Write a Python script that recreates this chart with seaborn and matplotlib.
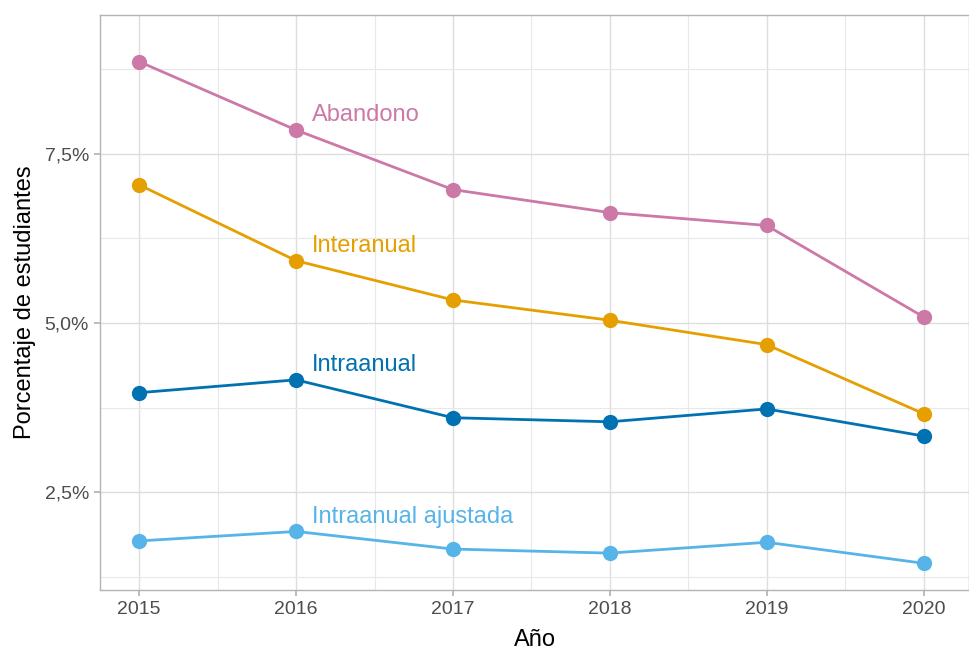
import numpy as np
import pandas as pd
import matplotlib
matplotlib.use("Agg")
import matplotlib.pyplot as plt
import seaborn as sns
from matplotlib.ticker import FuncFormatter, MultipleLocator

# values (percent)
anios = [2015, 2016, 2017, 2018, 2019, 2020]
abandono = [8.86, 7.85, 6.97, 6.63, 6.44, 5.09]
interanual = [7.04, 5.92, 5.34, 5.04, 4.68, 3.66]
intraanual = [3.97, 4.16, 3.60, 3.54, 3.73, 3.33]
intraanual_ajustada = [1.78, 1.92, 1.66, 1.60, 1.76, 1.45]

series = ["Abandono", "Interanual", "Intraanual", "Intraanual ajustada"]
colores = ["#CC79A7", "#E69F00", "#0072B2", "#56B4E9"]

df = pd.DataFrame({
    "anio": anios * 4,
    "valor": abandono + interanual + intraanual + intraanual_ajustada,
    "serie": np.repeat(series, len(anios)),
})

sns.set_theme(style="white")
plt.rcParams['font.family'] = ['Liberation Sans', 'DejaVu Sans']

fig = plt.figure(figsize=(9.69, 6.5), dpi=100)
ax = fig.add_axes([0.1032, 0.0923, 0.8968, 0.8847])

sns.lineplot(data=df, x="anio", y="valor", hue="serie", hue_order=series,
             palette=colores, marker="o", markersize=11, markeredgewidth=0,
             linewidth=2, legend=False, ax=ax, zorder=3)

# etiquetas junto al punto de 2016
for s, c in zip(series, colores):
    v = df[(df.serie == s) & (df.anio == 2016)].valor.iloc[0]
    ax.text(2016.1, v + 0.22, s, color=c, fontsize=17, ha="left", va="center")

ax.set_xlim(2014.75, 2020.29)
ax.set_ylim(1.055, 9.55)
ax.xaxis.set_major_locator(MultipleLocator(1))
ax.xaxis.set_minor_locator(MultipleLocator(0.5))
ax.yaxis.set_major_locator(MultipleLocator(2.5))
ax.yaxis.set_minor_locator(MultipleLocator(1.25))
ax.yaxis.set_major_formatter(FuncFormatter(lambda v, p: f"{v:.1f}%".replace(".", ",")))
ax.xaxis.set_major_formatter(FuncFormatter(lambda v, p: f"{int(v)}"))

ax.grid(which="major", color="#DEDEDE", linewidth=1.0)
ax.grid(which="minor", color="#E8E8E8", linewidth=0.8)
ax.set_axisbelow(True)
for sp in ax.spines.values():
    sp.set_color("#B3B3B3")
    sp.set_linewidth(1.0)

ax.tick_params(axis="both", which="major", length=4, color="#B3B3B3",
               labelsize=14, labelcolor="#4D4D4D", bottom=True, left=True, pad=4)
ax.tick_params(axis="both", which="minor", length=0)

ax.set_xlabel("Año", fontsize=17, color="black", labelpad=8)
ax.set_ylabel("Porcentaje de estudiantes", fontsize=17, color="black", labelpad=6)

fig.savefig("out.png", dpi=100)
